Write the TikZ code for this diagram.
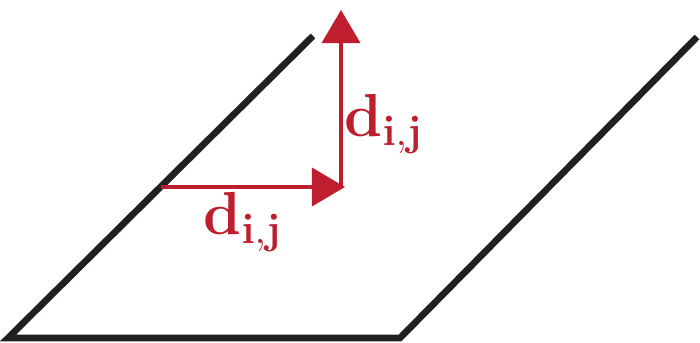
\documentclass[tikz,border=0pt]{standalone}
\usepackage{amsmath, amssymb}
\usepackage{xcolor}
\usetikzlibrary{arrows.meta}
\definecolor{planeblack}{RGB}{35,31,32}
\definecolor{stepred}{RGB}{190,30,45}

\begin{document}
\begin{tikzpicture}[x=0.01cm, y=-0.01cm, font=\fontsize{17}{20}\selectfont,
  plane/.style={planeblack, line width=1.9pt},
  shift arrow/.style={stepred, line width=1.05pt, -{Triangle[length=0.33cm, width=0.38cm]}},
  shift label/.style={stepred, inner sep=0pt}]
  \useasboundingbox (0,0) rectangle (700,343);
  % plane corners
  \coordinate (topleft) at (313,36);
  \coordinate (botleft) at (8,338);
  \coordinate (botright) at (400,338);
  \coordinate (topright) at (697,37);
  \draw[plane] (topleft) -- (botleft) -- (botright) -- (topright);
  % displacement
  \coordinate (start) at (160.5,187);
  \coordinate (corner) at (345,187);
  \coordinate (cornerup) at (341,188);
  \coordinate (top) at (341,10);
  \draw[shift arrow] (start) -- (corner);
  \draw[shift arrow] (cornerup) -- (top);
  \node[shift label] (hlabel) at (243,222) {$\mathbf{d}_{\mathbf{i,j}}$};
  \node[shift label] (vlabel) at (384,124) {$\mathbf{d}_{\mathbf{i,j}}$};
\end{tikzpicture}
\end{document}
